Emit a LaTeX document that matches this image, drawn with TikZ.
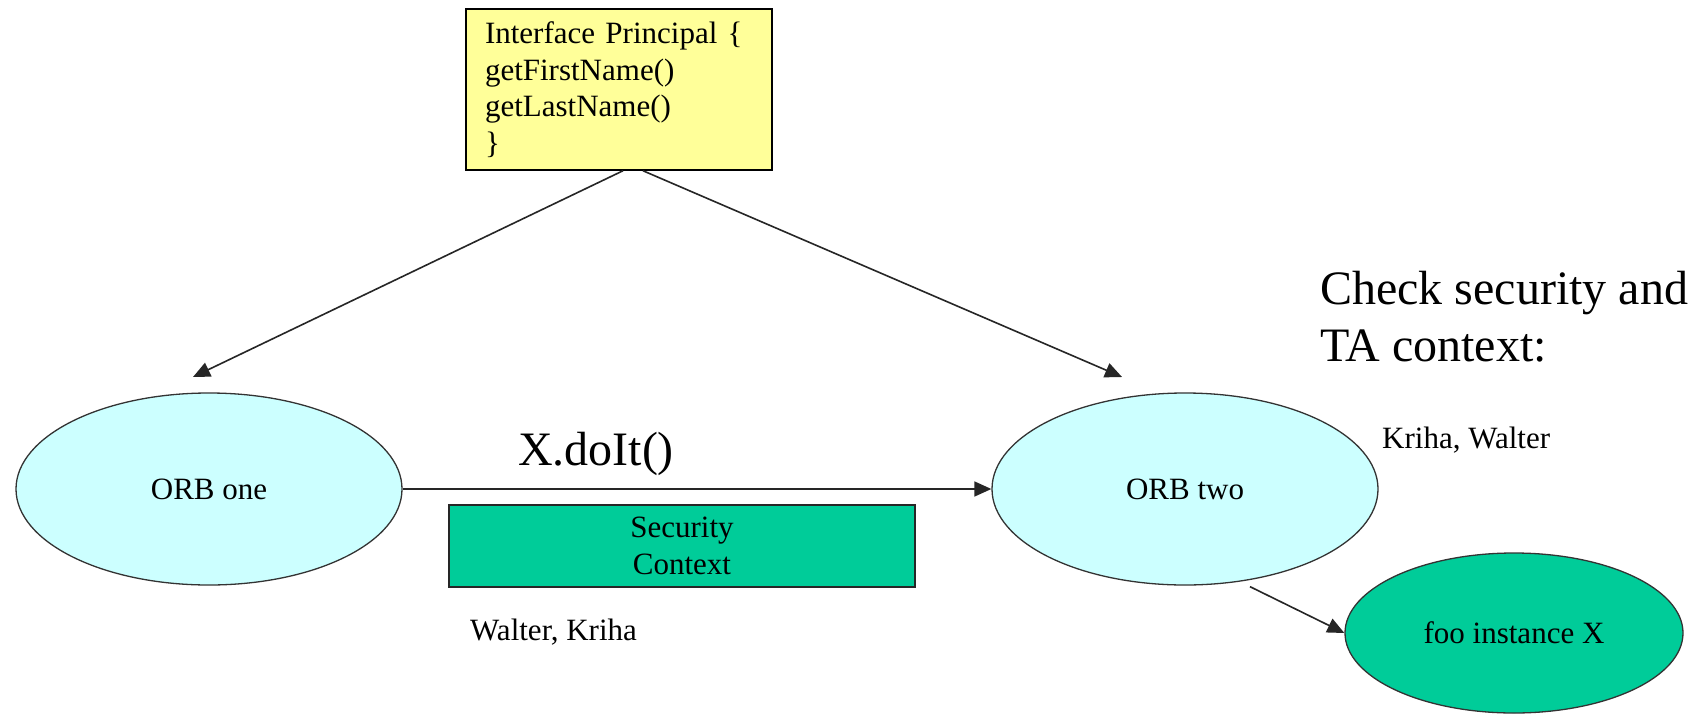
\documentclass[tikz,border=0pt]{standalone}
\usepackage{fontspec}
\setmainfont{Liberation Serif}
\usetikzlibrary{shapes.geometric,arrows.meta,calc}
\definecolor{orbfill}{HTML}{CCFFFF}
\definecolor{notefill}{HTML}{FFFF99}
\definecolor{ctxfill}{HTML}{00CC99}
\tikzset{
  orb/.style={ellipse,draw=black!80,line width=1.3pt,fill=orbfill,inner sep=0pt,
    minimum width=386pt,minimum height=192pt,font=\fontsize{31}{36}\selectfont},
  fooobj/.style={ellipse,draw=black!80,line width=1.3pt,fill=ctxfill,inner sep=0pt,
    minimum width=338pt,minimum height=160pt,font=\fontsize{31}{36}\selectfont},
  notebox/.style={rectangle,draw=black,line width=1.5pt,fill=notefill,inner sep=0pt,
    minimum width=306pt,minimum height=161pt,text width=268pt,align=left,
    font=\fontsize{31}{36.5}\selectfont},
  ctxbox/.style={rectangle,draw=black!85,line width=1.5pt,fill=ctxfill,inner sep=0pt,
    minimum width=466pt,minimum height=82pt,align=center,
    font=\fontsize{31}{37}\selectfont},
  small/.style={inner sep=0pt,font=\fontsize{31}{36}\selectfont},
  big/.style={inner sep=0pt,font=\fontsize{48}{57}\selectfont},
  link/.style={line width=1.6pt,draw=black!85,-{Triangle[length=17pt,width=15pt]}}
}
\begin{document}
\begin{tikzpicture}[x=1pt,y=-1pt]
\useasboundingbox[fill=white] (0,0) rectangle (1708,715);

% interface definition shared by both ORBs
\node[notebox] (iface) at (619,89.5) {Interface Principal \{\\getFirstName()\\getLastName()\\\}};

% the two ORBs and the target object
\node[orb] (orb1) at (209,489) {ORB one};
\node[orb] (orb2) at (1185,489) {ORB two};
\node[fooobj] (foo) at (1514,633) {foo instance X};

% propagated security context
\node[ctxbox] (ctx) at (682,546) {Security\\Context};

% labels
\node[big,anchor=base] (call) at (596,465) {X.doIt()};
\node[small,anchor=base west] (who1) at (470,640) {Walter, Kriha};
\node[small,anchor=base west] (who2) at (1382,448) {Kriha, Walter};
\node[big,anchor=north west,align=left] (check) at (1320,271) {Check security and\\TA context:};

% free arrow ends
\coordinate (tip1) at (193,377);
\coordinate (tip2) at (1122,377);

% connectors
\draw[link] ($(iface.south)+(4,0)$) -- (tip1);
\draw[link] ($(iface.south)+(24,0)$) -- (tip2);
\draw[link] (orb1.east) -- (orb2.west);
\draw[link] ($(orb2.south)+(65,1)$) -- (foo.west);
\end{tikzpicture}
\end{document}
